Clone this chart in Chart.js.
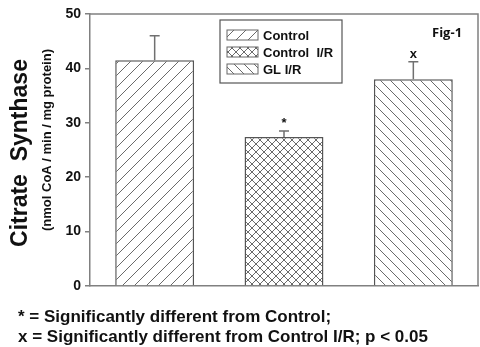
<!DOCTYPE html>
<html>
<head>
<meta charset="utf-8">
<script src="https://cdn.jsdelivr.net/npm/chart.js@4"></script>
<style>
  html, body { margin: 0; padding: 0; background: #fff; }
  #wrap { width: 480px; height: 347px; position: relative; }
</style>
</head>
<body>
<div id="wrap"><canvas id="csChart" width="480" height="347"></canvas></div>
<script>
// values
var categories = ['Control', 'Control  I/R', 'GL I/R'];
var means = [41.5, 27.4, 38.0];
var errors = [4.5, 1.1, 3.2];
var marks = ['', '*', 'x'];
var yTicks = [0, 10, 20, 30, 40, 50];
var footnotes = [
	'* = Significantly different from Control;',
	'x = Significantly different from Control I/R; p < 0.05'
];

var hatchTypes = ['fwd', 'cross', 'back'];

function makePattern(type) {
	var size = type == 'cross' ? 8 : (type == 'fwd' ? 12 : 10);
	var c = document.createElement('canvas');
	c.width = size;
	c.height = size;
	var g = c.getContext('2d');
	g.fillStyle = '#fff';
	g.fillRect(0, 0, size, size);
	g.strokeStyle = '#6a6a6a';
	g.lineWidth = 1;
	g.beginPath();
	if (type == 'fwd' || type == 'cross') {
		g.moveTo(-1, size + 1); g.lineTo(size + 1, -1);
		g.moveTo(-1, 1); g.lineTo(1, -1);
		g.moveTo(size - 1, size + 1); g.lineTo(size + 1, size - 1);
	}
	if (type == 'back' || type == 'cross') {
		g.moveTo(-1, -1); g.lineTo(size + 1, size + 1);
		g.moveTo(size - 1, -1); g.lineTo(size + 1, 1);
		g.moveTo(-1, size - 1); g.lineTo(1, size + 1);
	}
	g.stroke();
	return g.createPattern(c, 'repeat');
}

var patterns = hatchTypes.map(makePattern);

var extras = {
	id: 'extras',
	afterDraw: function(chart) {
		var ctx = chart.ctx;
		var area = chart.chartArea;
		var xs = chart.scales.x;
		var ys = chart.scales.y;
		ctx.save();

		// frame top + right
		ctx.strokeStyle = '#808080';
		ctx.lineWidth = 1.5;
		ctx.beginPath();
		ctx.moveTo(area.left, area.top);
		ctx.lineTo(area.right, area.top);
		ctx.lineTo(area.right, area.bottom);
		ctx.stroke();

		// error bars (upper only) and significance marks
		ctx.strokeStyle = '#707070';
		ctx.lineWidth = 1.5;
		ctx.fillStyle = '#111';
		ctx.font = 'bold 13px "Liberation Sans", Arial, sans-serif';
		ctx.textAlign = 'center';
		ctx.textBaseline = 'bottom';
		for (var i = 0; i < means.length; i++) {
			var cx = xs.getPixelForValue(i);
			var yTop = ys.getPixelForValue(means[i]);
			var yErr = ys.getPixelForValue(means[i] + errors[i]);
			ctx.beginPath();
			ctx.moveTo(cx, yTop);
			ctx.lineTo(cx, yErr);
			ctx.moveTo(cx - 5, yErr);
			ctx.lineTo(cx + 5, yErr);
			ctx.stroke();
			if (marks[i]) {
				ctx.fillText(marks[i], cx, yErr - 1);
			}
		}

		// legend box
		ctx.strokeStyle = '#555';
		ctx.lineWidth = 1.2;
		ctx.strokeRect(220, 20, 122, 63);
		ctx.font = 'bold 13px "Liberation Sans", Arial, sans-serif';
		ctx.textAlign = 'left';
		ctx.textBaseline = 'middle';
		for (var j = 0; j < categories.length; j++) {
			var ry = 35 + j * 17;
			ctx.fillStyle = patterns[j];
			ctx.fillRect(227, ry - 5, 31, 10);
			ctx.strokeStyle = '#666';
			ctx.lineWidth = 1;
			ctx.strokeRect(227, ry - 5, 31, 10);
			ctx.fillStyle = '#111';
			ctx.fillText(categories[j], 263, ry + 1);
		}

		// figure tag
		ctx.font = 'bold 13px "Open Sans", sans-serif';
		ctx.fillText('Fig-1', 432, 33);

		// y titles
		ctx.save();
		ctx.translate(21, 153);
		ctx.rotate(-Math.PI / 2);
		ctx.textAlign = 'center';
		ctx.textBaseline = 'middle';
		ctx.font = 'bold 23px "Liberation Sans", Arial, sans-serif';
		ctx.fillText('Citrate  Synthase', 0, 0);
		ctx.restore();
		ctx.save();
		ctx.translate(47, 140);
		ctx.rotate(-Math.PI / 2);
		ctx.textAlign = 'center';
		ctx.textBaseline = 'middle';
		ctx.font = 'bold 13px "Liberation Sans", Arial, sans-serif';
		ctx.fillText('(nmol CoA / min / mg protein)', 0, 0);
		ctx.restore();

		// footnotes
		ctx.textAlign = 'left';
		ctx.textBaseline = 'alphabetic';
		ctx.font = 'bold 17px "Liberation Sans", Arial, sans-serif';
		ctx.fillText(footnotes[0], 18, 322);
		ctx.fillText(footnotes[1], 18, 342);
		ctx.restore();
	}
};

var ctx1 = document.getElementById('csChart');
var csChart = new Chart(ctx1, {
	type: 'bar',
	data: {
		labels: categories,
		datasets: [{
			data: means,
			backgroundColor: patterns,
			borderColor: '#555',
			borderWidth: 1.5,
			barPercentage: 0.61,
			categoryPercentage: 1
		}]
	},
	options: {
		responsive: false,
		animation: false,
		layout: { padding: { top: 14, right: 2, left: 0, bottom: 0 } },
		plugins: {
			legend: { display: false },
			tooltip: { enabled: false }
		},
		scales: {
			x: {
				ticks: { display: false },
				grid: { drawOnChartArea: false, drawTicks: false },
				border: { color: '#808080', width: 1.5 },
				afterFit: function(s) { s.height = 61; }
			},
			y: {
				min: 0,
				max: 50,
				afterBuildTicks: function(s) {
					s.ticks = yTicks.map(function(v) { return { value: v }; });
				},
				ticks: {
					color: '#111',
					padding: 4,
					font: { family: '"Liberation Sans", Arial, sans-serif', size: 14, weight: 'bold' }
				},
				grid: { drawOnChartArea: false, tickLength: 5, color: '#808080', lineWidth: 1.5 },
				border: { color: '#808080', width: 1.5 },
				afterFit: function(s) { s.width = 90; }
			}
		}
	},
	plugins: [extras]
});
</script>
</body>
</html>
